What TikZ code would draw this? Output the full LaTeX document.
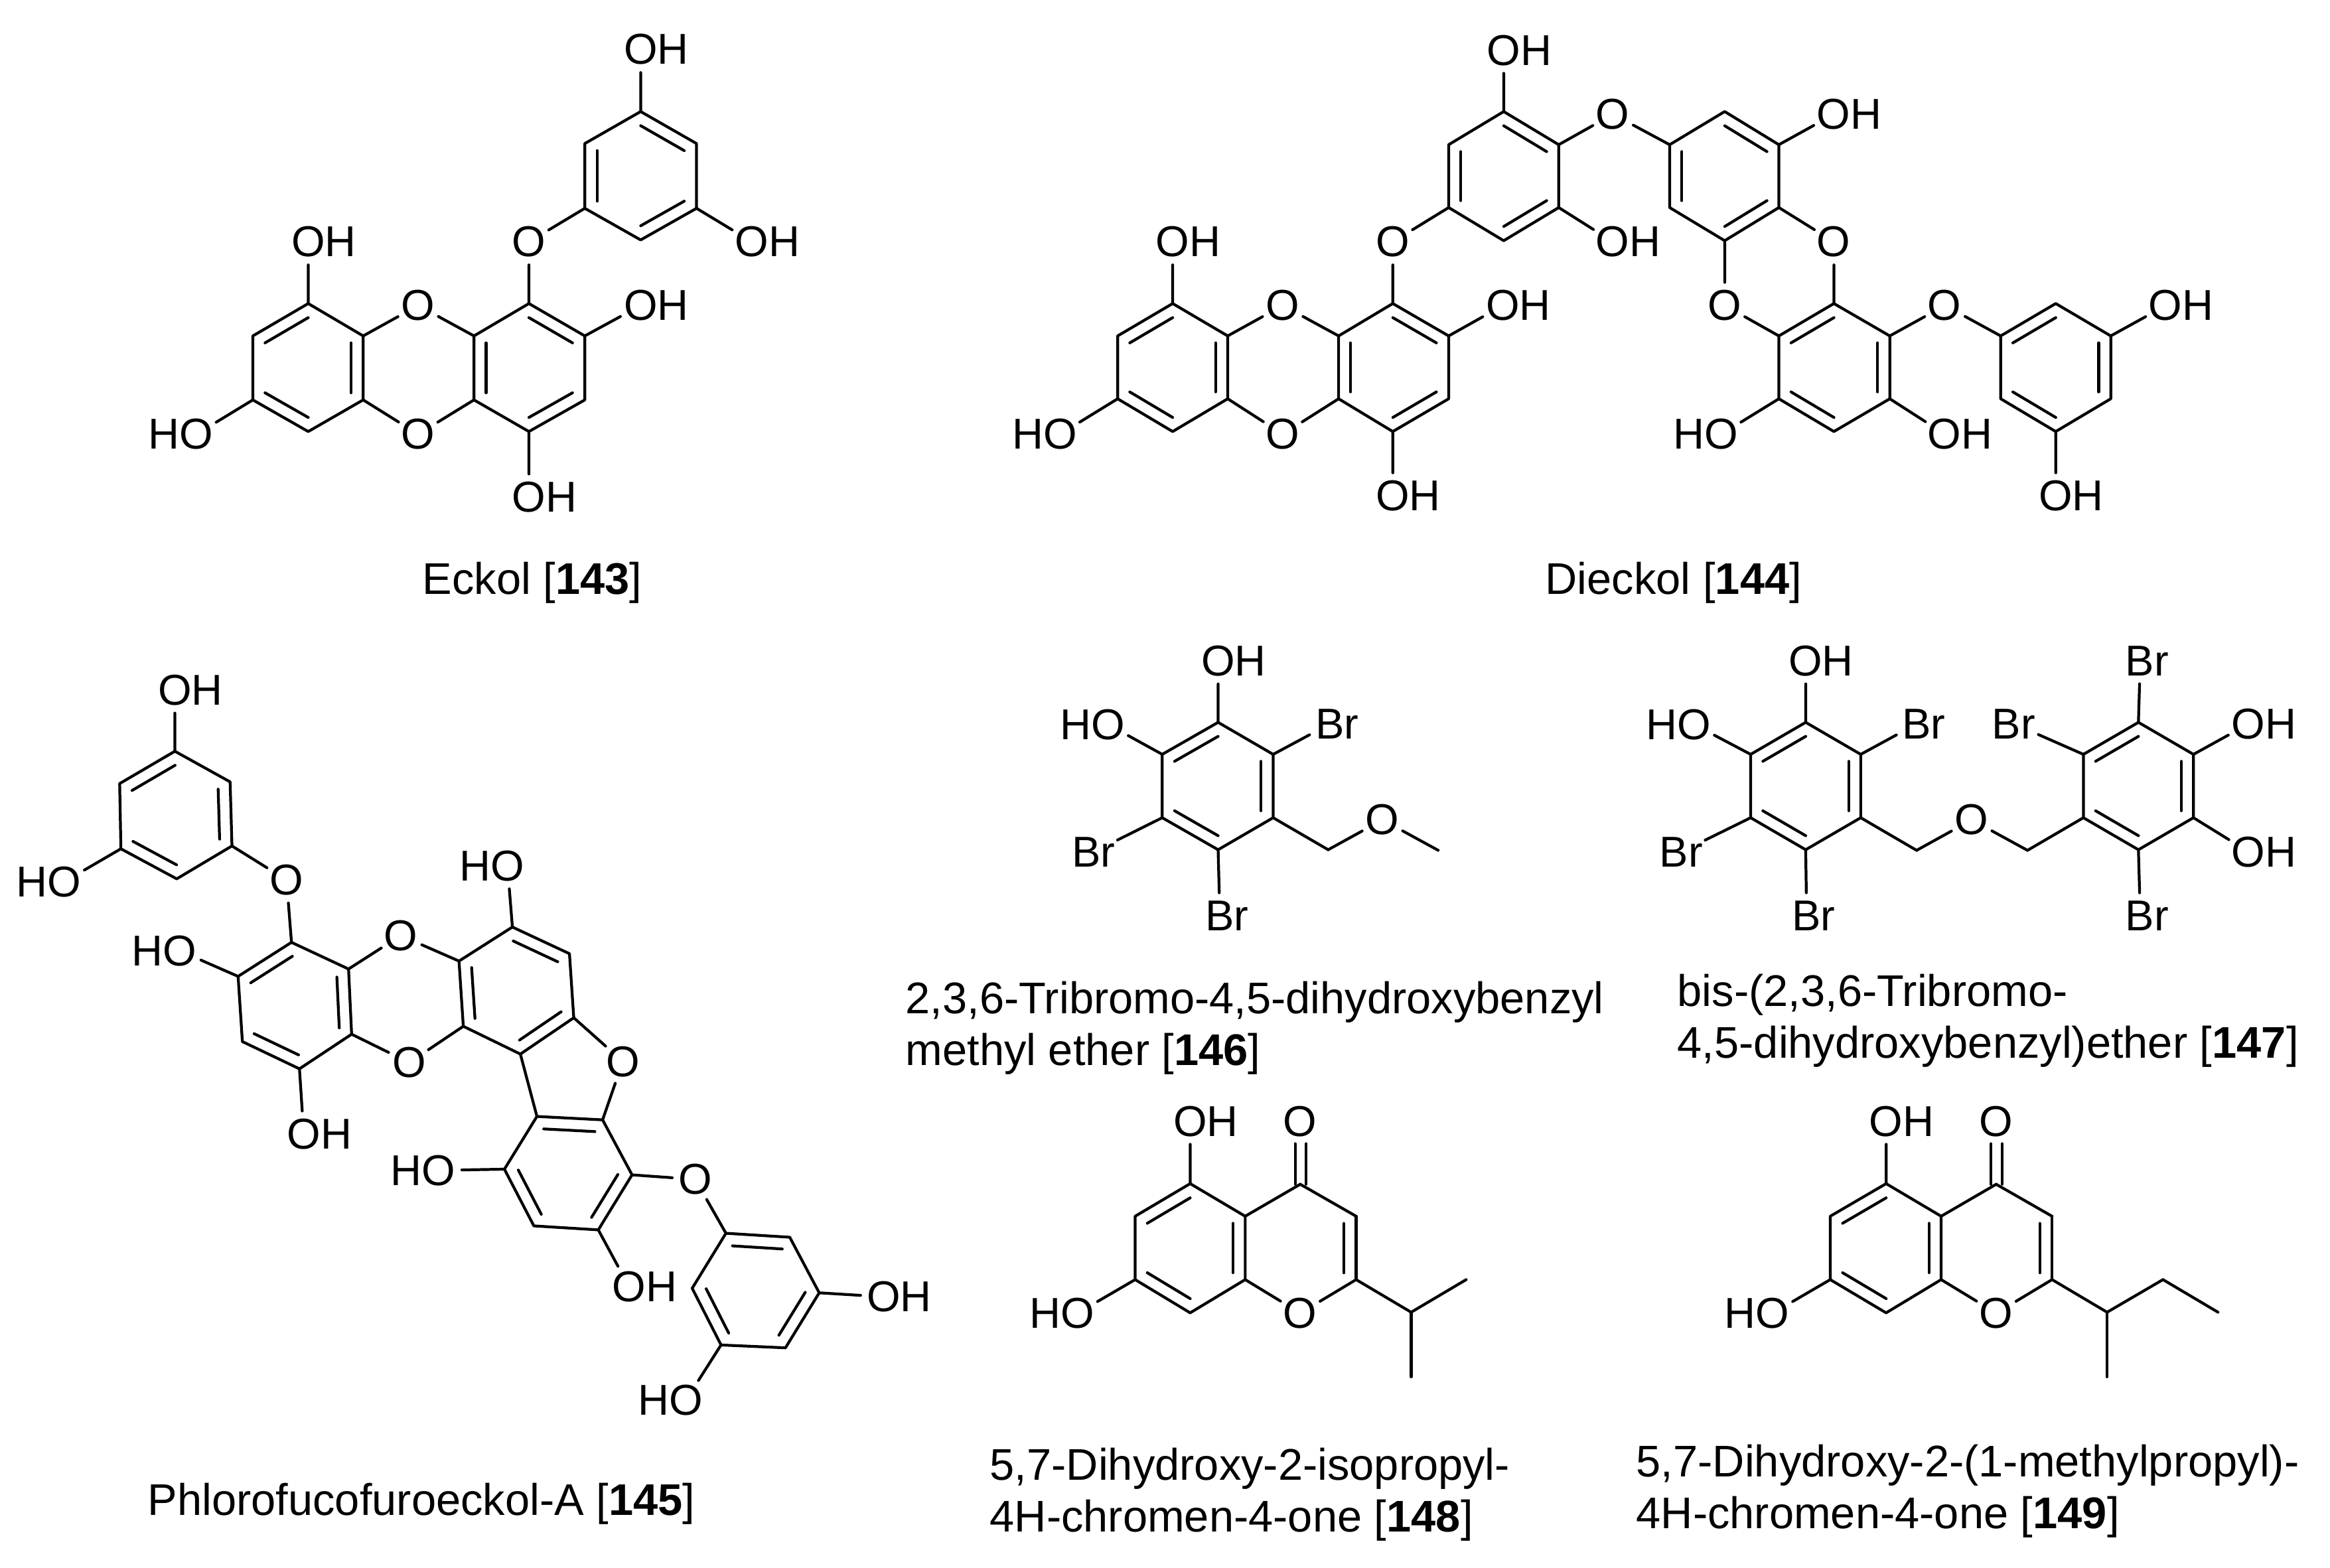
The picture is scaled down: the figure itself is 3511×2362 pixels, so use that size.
\documentclass[tikz,border=0pt]{standalone}
\usepackage{fontspec}
\setmainfont{Liberation Sans}
\usetikzlibrary{calc}
\tikzset{
  bond/.style={line width=1.2pt,line cap=round,line join=round,black},
  atom/.style={circle,inner sep=0pt,minimum size=.68cm,font=\fontsize{18.5}{22}\selectfont},
  wideatom/.style={atom,minimum size=.78cm},
  caption/.style={anchor=base west,inner sep=0pt,font=\fontsize{19}{23}\selectfont}
}
% ring: prefix, six atoms clockwise from the top; defines prefix1..6 and prefixc
\newcommand\ring[7]{%
  \coordinate (#11) at #2; \coordinate (#12) at #3; \coordinate (#13) at #4;
  \coordinate (#14) at #5; \coordinate (#15) at #6; \coordinate (#16) at #7;
  \coordinate (#1c) at ($(#11)!.5!(#14)$);
  \draw[bond] (#11)--(#12)--(#13)--(#14)--(#15)--(#16)--cycle;}
\newcommand\dbl[3]{\draw[bond] ($(#1)!.22!(#3)$) -- ($(#2)!.22!(#3)$);}
\newcommand\rdbl[1]{\dbl{#11}{#12}{#1c}\dbl{#13}{#14}{#1c}\dbl{#15}{#16}{#1c}}
\newcommand\ldbl[1]{\dbl{#11}{#16}{#1c}\dbl{#12}{#13}{#1c}\dbl{#14}{#15}{#1c}}
\newcommand\bd[2]{\draw[bond] (#1) -- (#2);}
\newcommand\OH[2]{\node[atom] (#1) at #2 {O\rlap{H}};}
\newcommand\HO[2]{\node[atom] (#1) at #2 {\llap{H}O};}
\newcommand\Ox[2]{\node[atom] (#1) at #2 {O};}
\newcommand\Br[2]{\node[atom] (#1) at #2 {B\rlap{r}};}
\newcommand\BrW[2]{\node[wideatom] (#1) at #2 {Br};}
\begin{document}
\begin{tikzpicture}[x=.01cm,y=-.01cm]
\path[use as bounding box,fill=white] (0,0) rectangle (3511,2362);

% ---------- Eckol
\begin{scope}[shift={(200,20)},xscale=.7015,yscale=.574]
\ring{a}{(1091,258)}{(1211,342)}{(1211,512)}{(1091,595)}{(971,512)}{(971,342)}\rdbl{a}
\ring{b}{(851,762)}{(971,847)}{(971,1015)}{(851,1098)}{(733,1015)}{(733,847)}\rdbl{b}
\ring{c}{(377,762)}{(495,847)}{(495,1015)}{(377,1098)}{(258,1015)}{(258,847)}\ldbl{c}
\OH{e1}{(1091,95)}\bd{e1}{a1}
\OH{e2}{(1330,600)}\bd{e2}{a3}
\Ox{e3}{(851,600)}\bd{e3}{a5}\bd{e3}{b1}
\OH{e4}{(1091,767)}\bd{e4}{b2}
\OH{e5}{(851,1270)}\bd{e5}{b4}
\Ox{e6}{(613,767)}\bd{e6}{b6}\bd{e6}{c2}
\Ox{e7}{(613,1105)}\bd{e7}{b5}\bd{e7}{c3}
\OH{e8}{(377,600)}\bd{e8}{c1}
\HO{e9}{(137,1105)}\bd{e9}{c5}
\end{scope}
\node[caption] (l143) at (636,895) {Eckol [\textbf{143}]};

% ---------- Dieckol
\begin{scope}[shift={(1480,20)},xscale=1.2755,yscale=.574]
\ring{p}{(616,258)}{(681,345)}{(681,510)}{(616,597)}{(551,510)}{(551,345)}\rdbl{p}
\ring{q}{(877,258)}{(941,345)}{(941,510)}{(877,597)}{(812,510)}{(812,345)}\rdbl{q}
\ring{r}{(485,762)}{(551,847)}{(551,1012)}{(485,1098)}{(421,1012)}{(421,847)}\rdbl{r}
\ring{s}{(225,762)}{(290,847)}{(290,1012)}{(225,1098)}{(160,1012)}{(160,847)}\ldbl{s}
\ring{t}{(1006,762)}{(1072,847)}{(1072,1012)}{(1006,1098)}{(941,1012)}{(941,847)}\ldbl{t}
\ring{u}{(1268,762)}{(1333,847)}{(1333,1012)}{(1268,1098)}{(1203,1012)}{(1203,847)}\ldbl{u}
\OH{d1}{(616,97)}\bd{d1}{p1}
\Ox{d2}{(745,265)}\bd{d2}{p2}\bd{d2}{q6}
\OH{d3}{(1006,265)}\bd{d3}{q2}
\OH{d4}{(745,600)}\bd{d4}{p3}
\Ox{d5}{(485,600)}\bd{d5}{p5}\bd{d5}{r1}
\Ox{d6}{(1006,600)}\bd{d6}{q3}\bd{d6}{t1}
\Ox{d7}{(877,767)}\bd{d7}{q4}\bd{d7}{t6}
\OH{d8}{(615,767)}\bd{d8}{r2}
\OH{d9}{(485,1267)}\bd{d9}{r4}
\Ox{d10}{(355,767)}\bd{d10}{r6}\bd{d10}{s2}
\Ox{d11}{(355,1105)}\bd{d11}{r5}\bd{d11}{s3}
\OH{d12}{(225,600)}\bd{d12}{s1}
\HO{d13}{(92,1105)}\bd{d13}{s5}
\HO{d14}{(873,1105)}\bd{d14}{t5}
\OH{d15}{(1137,1105)}\bd{d15}{t3}
\Ox{d16}{(1137,767)}\bd{d16}{t2}\bd{d16}{u6}
\OH{d17}{(1398,767)}\bd{d17}{u2}
\OH{d18}{(1268,1267)}\bd{d18}{u4}
\end{scope}
\node[caption] (l144) at (2328,895) {Dieckol [\textbf{144}]};

% ---------- Phlorofucofuroeckol-A
\begin{scope}[shift={(0,980)},xscale=.9247,yscale=.8546]
\ring{v}{(285,178)}{(375,232)}{(378,345)}{(288,403)}{(197,350)}{(195,235)}\ldbl{v}
\ring{w}{(475,515)}{(568,562)}{(573,677)}{(488,738)}{(395,690)}{(388,575)}\ldbl{w}
\ring{x}{(835,488)}{(928,535)}{(935,648)}{(848,712)}{(755,663)}{(748,548)}\rdbl{x}
\ring{y}{(875,822)}{(982,828)}{(1030,925)}{(975,1022)}{(870,1015)}{(822,915)}\rdbl{y}
\ring{z}{(1183,1028)}{(1287,1035)}{(1335,1133)}{(1280,1230)}{(1175,1225)}{(1128,1125)}\rdbl{z}
\OH{f1}{(285,70)}\bd{f1}{v1}
\HO{f2}{(105,408)}\bd{f2}{v5}
\Ox{f3}{(467,405)}\bd{f3}{v3}\bd{f3}{w1}
\HO{f4}{(293,530)}\bd{f4}{w6}
\OH{f5}{(495,853)}\bd{f5}{w4}
\Ox{f6}{(653,503)}\bd{f6}{w2}\bd{f6}{x6}
\Ox{f7}{(667,727)}\bd{f7}{w3}\bd{f7}{x5}
\HO{f8}{(827,380)}\bd{f8}{x1}
\Ox{f9}{(1015,725)}\bd{f9}{x3}\bd{f9}{y2}
\bd{x4}{y1}
\HO{f10}{(715,917)}\bd{f10}{y6}
\OH{f11}{(1025,1122)}\bd{f11}{y4}
\Ox{f12}{(1133,933)}\bd{f12}{y3}\bd{f12}{z1}
\OH{f13}{(1440,1140)}\bd{f13}{z3}
\HO{f14}{(1118,1322)}\bd{f14}{z5}
\end{scope}
\node[caption] (l145) at (222,2283) {Phlorofucofuroeckol-A [\textbf{145}]};

% ---------- 146 and 147
\begin{scope}[shift={(1500,960)},xscale=1.2755,yscale=.4592]
\ring{A}{(263,280)}{(328,385)}{(328,593)}{(263,698)}{(197,593)}{(197,385)}\ldbl{A}
\OH{g1}{(263,78)}\bd{g1}{A1}
\HO{g2}{(133,287)}\bd{g2}{A6}
\Br{g3}{(395,285)}\bd{g3}{A2}
\BrW{g4}{(116,705)}\bd{g4}{A5}
\Br{g5}{(265,915)}\bd{g5}{A4}
\coordinate (g6) at (393,698);
\coordinate (g7) at (523,700);
\Ox{g8}{(457,600)}\bd{A3}{g6}\bd{g6}{g8}\bd{g8}{g7}
\ring{B}{(957,280)}{(1022,385)}{(1022,593)}{(957,698)}{(892,593)}{(892,385)}\ldbl{B}
\ring{C}{(1350,280)}{(1415,385)}{(1415,593)}{(1350,698)}{(1285,593)}{(1285,385)}\ldbl{C}
\OH{h1}{(957,78)}\bd{h1}{B1}
\HO{h2}{(825,287)}\bd{h2}{B6}
\Br{h3}{(1088,285)}\bd{h3}{B2}
\BrW{h4}{(810,705)}\bd{h4}{B5}
\Br{h5}{(958,915)}\bd{h5}{B4}
\coordinate (h6) at (1088,700);
\coordinate (h7) at (1219,700);
\Ox{h8}{(1153,600)}\bd{B3}{h6}\bd{h6}{h8}\bd{h8}{h7}\bd{h7}{C5}
\Br{h9}{(1352,78)}\bd{h9}{C1}
\BrW{h10}{(1203,285)}\bd{h10}{C6}
\OH{h11}{(1480,285)}\bd{h11}{C2}
\OH{h12}{(1480,705)}\bd{h12}{C3}
\Br{h13}{(1352,915)}\bd{h13}{C4}
\end{scope}
\node[caption] (l146a) at (1364,1527) {2,3,6-Tribromo-4,5-dihydroxybenzyl};
\node[caption] (l146b) at (1364,1605) {methyl ether [\textbf{146}]};
\node[caption] (l147a) at (2527,1516) {bis-(2,3,6-Tribromo-};
\node[caption] (l147b) at (2527,1594) {4,5-dihydroxybenzyl)ether [\textbf{147}]};

% ---------- 148 and 149
\begin{scope}[shift={(1500,1640)},xscale=1.2755,yscale=.4592]
\ring{D}{(230,313)}{(295,420)}{(295,628)}{(230,737)}{(165,628)}{(165,420)}\ldbl{D}
\OH{i1}{(230,108)}\bd{i1}{D1}
\HO{i2}{(97,738)}\bd{i2}{D5}
\coordinate (E1) at (360,315);
\coordinate (E2) at (426,420);
\coordinate (E3) at (426,628);
\coordinate (Ec) at (360,527);
\Ox{i3}{(360,738)}\bd{D2}{E1}\bd{E1}{E2}\bd{E2}{E3}\bd{E3}{i3}\bd{i3}{D3}
\dbl{E2}{E3}{Ec}
\Ox{i4}{(360,108)}
\coordinate (i5) at (354,315);\coordinate (i6) at (367,315);
\coordinate (i7) at (354,182);\coordinate (i8) at (367,182);
\bd{i5}{i7}\bd{i6}{i8}
\coordinate (i9) at (491,735);\coordinate (i10) at (556,628);\coordinate (i11) at (491,947);
\bd{E3}{i9}\bd{i9}{i10}\bd{i9}{i11}
\ring{F}{(1052,313)}{(1117,420)}{(1117,628)}{(1052,737)}{(986,628)}{(986,420)}\ldbl{F}
\OH{j1}{(1052,108)}\bd{j1}{F1}
\HO{j2}{(918,738)}\bd{j2}{F5}
\coordinate (G1) at (1182,315);
\coordinate (G2) at (1248,420);
\coordinate (G3) at (1248,628);
\coordinate (Gc) at (1182,527);
\Ox{j3}{(1182,738)}\bd{F2}{G1}\bd{G1}{G2}\bd{G2}{G3}\bd{G3}{j3}\bd{j3}{F3}
\dbl{G2}{G3}{Gc}
\Ox{j4}{(1182,108)}
\coordinate (j5) at (1176,315);\coordinate (j6) at (1189,315);
\coordinate (j7) at (1176,182);\coordinate (j8) at (1189,182);
\bd{j5}{j7}\bd{j6}{j8}
\coordinate (j9) at (1313,735);\coordinate (j10) at (1379,628);\coordinate (j11) at (1444,735);\coordinate (j12) at (1313,947);
\bd{G3}{j9}\bd{j9}{j10}\bd{j10}{j11}\bd{j9}{j12}
\end{scope}
\node[caption] (l148a) at (1491,2230) {5,7-Dihydroxy-2-isopropyl-};
\node[caption] (l148b) at (1491,2308) {4H-chromen-4-one [\textbf{148}]};
\node[caption] (l149a) at (2465,2225) {5,7-Dihydroxy-2-(1-methylpropyl)-};
\node[caption] (l149b) at (2465,2303) {4H-chromen-4-one [\textbf{149}]};
\end{tikzpicture}
\end{document}
